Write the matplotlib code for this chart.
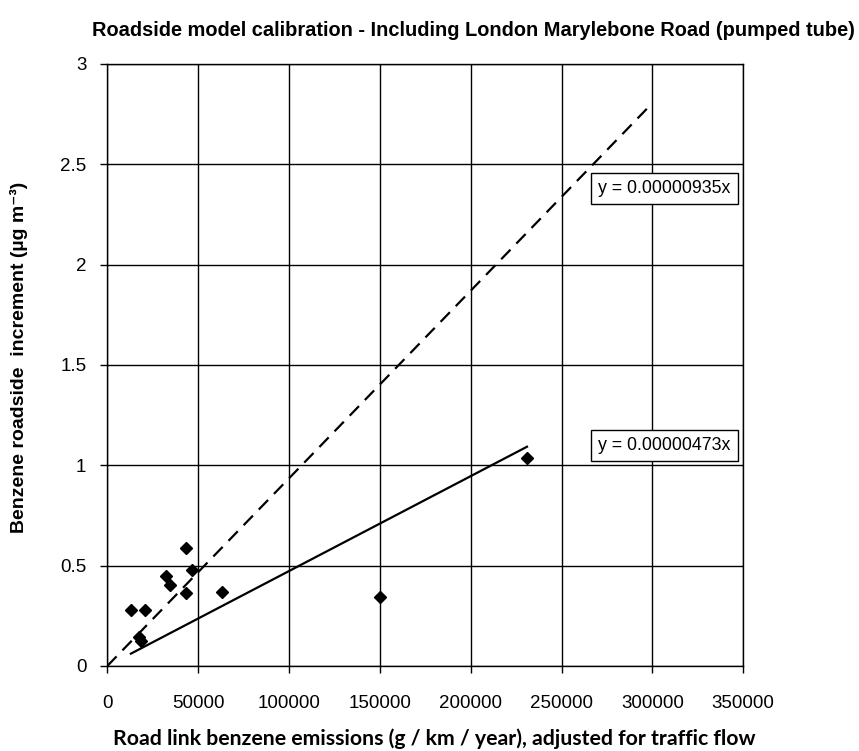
import numpy as np
import matplotlib.pyplot as plt

# Measured sites: emissions (g/km/year) vs roadside increment (ug/m3)
emissions = [13000, 20800, 17400, 18600, 32300, 34500, 46500, 43300, 43200, 63000, 150000, 231000]
increment = [0.28, 0.28, 0.145, 0.125, 0.45, 0.405, 0.48, 0.365, 0.59, 0.37, 0.342, 1.038]

# Fitted slopes
slope_all = 0.00000473
slope_dashed = 0.00000935
dashed_x = [0, 300000]

x_ticks = [0, 50000, 100000, 150000, 200000, 250000, 300000, 350000]
y_ticks = [0, 0.5, 1, 1.5, 2, 2.5, 3]
y_tick_labels = ['0', '0.5', '1', '1.5', '2', '2.5', '3']

plt.rcParams['font.family'] = ['Liberation Sans', 'DejaVu Sans']

fig = plt.figure(figsize=(8.59, 7.51), dpi=100)
ax = fig.add_axes([0.1249, 0.1132, 0.7403, 0.8016])

# Trend lines
fit_x = np.array([min(emissions), max(emissions)])
ax.plot(fit_x, slope_all * fit_x, color='black', lw=1.6, zorder=3)
dx = np.array(dashed_x)
ax.plot(dx, slope_dashed * dx, color='black', lw=1.6, ls=(0, (6, 3.8)), zorder=3)

# Data points
ax.plot(emissions, increment, ls='none', marker='D', color='black', ms=6.5, zorder=4)

ax.set_xlim(0, 350000)
ax.set_ylim(0, 3)
ax.set_xticks(x_ticks)
ax.set_xticklabels([str(v) for v in x_ticks])
ax.set_yticks(y_ticks)
ax.set_yticklabels(y_tick_labels)
ax.tick_params(axis='both', direction='out', length=5, width=1, labelsize=13.5,
               colors='black')
ax.tick_params(axis='x', pad=16)
ax.tick_params(axis='y', pad=10)
ax.grid(True, color='black', lw=1)
ax.set_axisbelow(True)
for s in ax.spines.values():
    s.set_color('black')
    s.set_linewidth(1)

# Equation labels
box = dict(boxstyle='square,pad=0.4', fc='white', ec='black', lw=1)
ax.text(343000, 2.38, 'y = 0.00000935x', ha='right', va='center', fontsize=12.8, bbox=box)
ax.text(343000, 1.10, 'y = 0.00000473x', ha='right', va='center', fontsize=12.8, bbox=box)

fig.text(0.551, 1 - 36 / 751, 'Roadside model calibration - Including London Marylebone Road (pumped tube)',
         ha='center', va='baseline', fontsize=14.4, fontweight='bold')
fig.text(0.506, 1 - 745 / 751, 'Road link benzene emissions (g / km / year), adjusted for traffic flow',
         ha='center', va='baseline', fontsize=15.3, fontweight='bold', family='Lato')
fig.text(0.022, 0.524, 'Benzene roadside  increment (µg m⁻³)', rotation=90,
         ha='center', va='center', fontsize=14, fontweight='bold')

fig.savefig('out.png', dpi=100)
